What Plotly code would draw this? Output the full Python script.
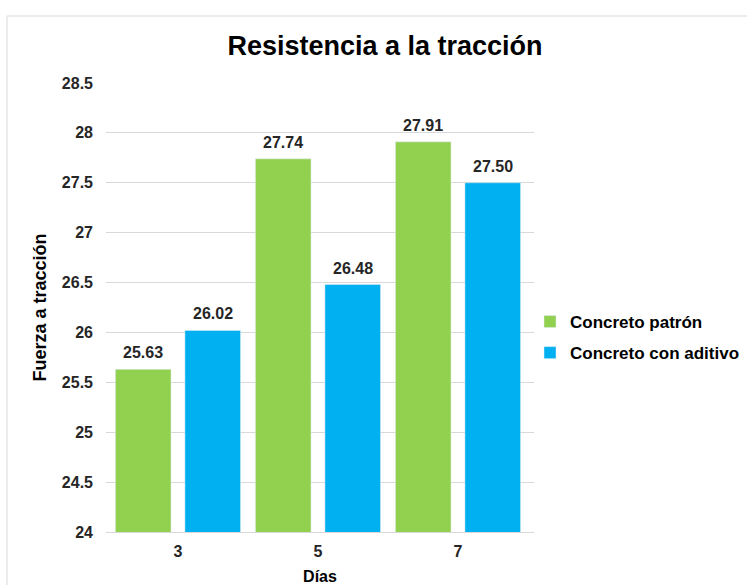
import plotly.graph_objects as go

dias = ["3", "5", "7"]
patron = [25.63, 27.74, 27.91]
aditivo = [26.02, 26.48, 27.50]
y_ticks = [24, 24.5, 25, 25.5, 26, 26.5, 27, 27.5, 28, 28.5]
y_tick_text = ["24", "24.5", "25", "25.5", "26", "26.5", "27", "27.5", "28", "28.5"]

FONT = "Arial, 'Liberation Sans', sans-serif"
W, H = 747, 585
L, R, T, B = 106, 213, 83, 53
pw, ph = W - L - R, H - T - B

def px_x(x):
    return (x - L) / pw

def px_y(y):
    return (H - B - y) / ph

BARGAP = 0.007
X_RANGE = [-0.514, 2.543]
label_font = dict(family=FONT, size=16, color="#262626", weight="bold")

fig = go.Figure()
fig.add_trace(go.Bar(
    x=dias, y=patron, name="Concreto patrón", marker_color="#92D050",
    legendgroup="a", hoverinfo="x+y",
))
fig.add_trace(go.Bar(
    x=dias, y=aditivo, name="Concreto con aditivo", marker_color="#00B0F0",
    legendgroup="b", hoverinfo="x+y",
))

# data labels above each bar (offset to the bar centre inside its group)
cat_px = pw / (X_RANGE[1] - X_RANGE[0])
half_slot = cat_px * (1 - BARGAP) / 4
for series, sign in ((patron, -1), (aditivo, 1)):
    for i, v in enumerate(series):
        fig.add_annotation(x=i, y=v, xref="x", yref="y", text=f"{v:.2f}", showarrow=False,
                           xshift=sign * half_slot, yshift=7, yanchor="bottom",
                           borderpad=0, font=label_font)

fig.update_layout(
    width=W, height=H,
    margin=dict(l=L, r=R, t=T, b=B, autoexpand=False),
    paper_bgcolor="white", plot_bgcolor="white",
    barmode="group", bargap=BARGAP, bargroupgap=0.2,
    title=dict(text="<b>Resistencia a la tracción</b>", x=385 / W, xanchor="center",
               xref="container", y=1 - 46 / H, yanchor="middle",
               font=dict(family=FONT, size=27, color="#000000")),
    font=dict(family=FONT, color="#262626"),
    legend=dict(x=px_x(530), y=px_y(337.5), xanchor="left", yanchor="middle",
                font=dict(family=FONT, size=17, color="#000000", weight="bold"),
                tracegroupgap=6, itemwidth=30, bgcolor="rgba(0,0,0,0)"),
    showlegend=True,
    shapes=[dict(type="rect", xref="paper", yref="paper",
                 x0=px_x(7), x1=px_x(800), y0=px_y(620), y1=px_y(16),
                 line=dict(color="#D9D9D9", width=1), fillcolor="rgba(0,0,0,0)", layer="below")],
)

fig.update_yaxes(
    range=[24, 28.5], tickvals=y_ticks, ticktext=y_tick_text, automargin=False,
    showgrid=True, gridcolor="#D9D9D9", gridwidth=1, zeroline=False,
    showline=False, ticks="", ticklabelstandoff=12,
    tickfont=dict(family=FONT, size=16, color="#262626", weight="bold"),
    title=dict(text="<b>Fuerza a tracción</b>", standoff=10,
               font=dict(family=FONT, size=18, color="#000000")),
)
fig.update_xaxes(
    range=X_RANGE, automargin=False,
    showline=True, linecolor="#D9D9D9", linewidth=1, ticks="", ticklabelstandoff=5,
    tickfont=dict(family=FONT, size=16, color="#262626", weight="bold"),
    title=dict(text="<b>Días</b>", standoff=11,
               font=dict(family=FONT, size=16, color="#000000")),
)

fig.write_html("out.html")
